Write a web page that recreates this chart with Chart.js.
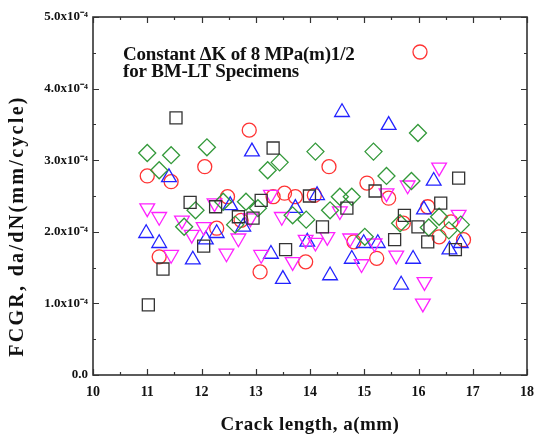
<!DOCTYPE html>
<html>
<head>
<meta charset="utf-8">
<script src="https://cdn.jsdelivr.net/npm/chart.js@4.4.1/dist/chart.umd.min.js"></script>
<style>
html,body{margin:0;padding:0;background:#fff;}
#wrap{width:543px;height:438px;position:relative;}
</style>
</head>
<body>
<div id="wrap"><canvas id="c" width="543" height="438"></canvas></div>
<script>
// ---- data (crack length a in mm, FCGR in units of 1e-4 mm/cycle) ----
const redX = [11.0,11.22,11.44,12.06,12.28,12.48,12.73,12.88,13.08,13.32,13.53,13.73,13.92,14.08,14.35,14.81,15.05,15.23,15.45,15.72,16.17,16.38,16.6,16.83];
const redY = [2.78,1.65,2.70,2.91,2.05,2.49,2.16,3.42,1.44,2.49,2.54,2.49,1.58,2.51,2.91,1.86,2.68,1.63,2.47,2.12,2.35,1.93,2.14,1.89];

const blackX = [11.02,11.29,11.53,11.79,12.04,12.26,12.68,12.95,13.1,13.32,13.55,13.99,14.23,14.68,15.2,15.56,15.74,15.99,16.17,16.41,16.68,16.74];
const blackY = [0.98,1.48,3.59,2.41,1.80,2.35,2.21,2.19,2.44,3.17,1.75,2.50,2.07,2.33,2.57,1.89,2.23,2.07,1.86,2.40,1.75,2.75];

const blueX = [10.98,11.22,11.4,11.84,12.08,12.28,12.53,12.77,12.93,13.28,13.5,13.73,13.95,14.13,14.37,14.59,14.77,14.99,15.25,15.45,15.68,15.9,16.1,16.28,16.57,16.78];
const blueY = [1.98,1.84,2.76,1.61,1.89,1.98,2.37,2.07,3.12,1.69,1.34,2.33,1.86,2.51,1.39,3.67,1.62,1.84,1.84,3.49,1.26,1.62,2.31,2.71,1.75,1.84];

const magentaX = [11.0,11.22,11.44,11.64,11.82,12.04,12.24,12.46,12.68,12.9,13.1,13.28,13.48,13.68,13.92,14.1,14.32,14.55,14.74,14.95,15.19,15.41,15.59,15.8,16.11,16.08,16.38,16.74];
const magentaY = [2.33,2.21,1.68,2.16,1.96,2.07,2.40,1.70,1.91,2.19,1.68,2.52,2.21,1.58,1.89,1.85,1.93,2.29,1.91,1.55,1.84,2.54,1.67,2.65,1.30,1.0,2.90,2.24];

const greenX = [11.0,11.22,11.44,11.68,11.89,12.1,12.4,12.62,12.82,13.04,13.22,13.44,13.68,13.93,14.1,14.37,14.55,14.77,15.01,15.17,15.41,15.66,15.87,15.99,16.19,16.38,16.56,16.78];
const greenY = [3.10,2.86,3.07,2.07,2.30,3.18,2.42,2.10,2.42,2.33,2.86,2.97,2.23,2.17,3.12,2.30,2.49,2.49,1.93,3.12,2.78,2.12,2.71,3.38,2.06,2.21,2.02,2.10];

const xTicks = [10,11,12,13,14,15,16,17,18];
const yTicks = [0,1,2,3,4,5];
const legendLines = ["Constant \u0394K of 8 MPa(m)1/2", "for BM-LT Specimens"];
const xTitle = "Crack length, a(mm)";
const yTitle = "FCGR, da/dN(mm/cycle)";

function pts(xs, ys){ return xs.map((x,i)=>({x:x, y:ys[i]})); }

const SERIF = "'Liberation Serif','Times New Roman',serif";

const framePlugin = {
  id:'frame',
  afterDraw(chart){
    const ctx = chart.ctx, a = chart.chartArea;
    const xs = chart.scales.x, ys = chart.scales.y;
    ctx.save();
    ctx.strokeStyle = '#333';
    ctx.lineWidth = 1.6;
    ctx.strokeRect(a.left, a.top, a.right-a.left, a.bottom-a.top);
    ctx.lineWidth = 1.2;
    ctx.beginPath();
    for (let v = 10; v <= 18.001; v += 0.5) {
      const px = Math.round(xs.getPixelForValue(v)) + 0.5;
      const L = (Math.abs(v - Math.round(v)) < 1e-6) ? 6 : 3;
      ctx.moveTo(px, a.bottom); ctx.lineTo(px, a.bottom - L);
      ctx.moveTo(px, a.top); ctx.lineTo(px, a.top + L);
    }
    for (let v = 0; v <= 5.001; v += 0.5) {
      const py = Math.round(ys.getPixelForValue(v)) + 0.5;
      const L = (Math.abs(v - Math.round(v)) < 1e-6) ? 6 : 3;
      ctx.moveTo(a.left, py); ctx.lineTo(a.left + L, py);
      ctx.moveTo(a.right, py); ctx.lineTo(a.right - L, py);
    }
    ctx.stroke();

    // axis titles
    ctx.fillStyle = '#111';
    ctx.font = "bold 19px " + SERIF;
    ctx.textBaseline = 'middle';
    ctx.textAlign = 'center';
    try { ctx.letterSpacing = '0.5px'; } catch(e) {}
    ctx.fillText(xTitle, (a.left + a.right)/2, 425);
    ctx.save();
    ctx.font = "bold 20px " + SERIF;
    try { ctx.letterSpacing = '2.3px'; } catch(e) {}
    ctx.translate(18, (a.top + a.bottom)/2 + 30);
    ctx.rotate(-Math.PI/2);
    ctx.fillText(yTitle, 0, 0);
    ctx.restore();

    // legend annotation
    ctx.font = "bold 19px " + SERIF;
    ctx.textAlign = 'left';
    try { ctx.letterSpacing = '-0.2px'; } catch(e) {}
    const lx = a.left + 30, ly = a.top + 38;
    ctx.fillText(legendLines[0], lx, ly);
    ctx.fillText(legendLines[1], lx, ly + 17);
    try { ctx.letterSpacing = '0px'; } catch(e) {}
    ctx.beginPath();
    ctx.strokeStyle = '#ff3333';
    ctx.lineWidth = 1.3;
    ctx.arc(a.left + 327, ly - 3, 7, 0, Math.PI*2);
    ctx.stroke();
    ctx.restore();
  }
};

const common = { showLine:false, backgroundColor:'rgba(0,0,0,0)', borderWidth:1.3, pointBorderWidth:1.3, pointHoverRadius:8 };

new Chart(document.getElementById('c'), {
  type:'scatter',
  data:{
    datasets:[
      Object.assign({label:'black', data:pts(blackX,blackY), pointStyle:'rect', pointRadius:8.5, borderColor:'#333333', pointBorderColor:'#333333'}, common),
      Object.assign({label:'green', data:pts(greenX,greenY), pointStyle:'rectRot', pointRadius:8.5, borderColor:'#33993a', pointBorderColor:'#33993a'}, common),
      Object.assign({label:'magenta', data:pts(magentaX,magentaY), pointStyle:'triangle', rotation:180, pointRotation:180, pointRadius:8.5, borderColor:'#ff22ff', pointBorderColor:'#ff22ff'}, common),
      Object.assign({label:'blue', data:pts(blueX,blueY), pointStyle:'triangle', pointRadius:8.5, borderColor:'#2222ff', pointBorderColor:'#2222ff'}, common),
      Object.assign({label:'red', data:pts(redX,redY), pointStyle:'circle', pointRadius:7, borderColor:'#ff3333', pointBorderColor:'#ff3333'}, common)
    ]
  },
  options:{
    responsive:false,
    animation:false,
    devicePixelRatio:1,
    layout:{padding:{left:5, right:11, top:17, bottom:0}},
    plugins:{legend:{display:false}, tooltip:{enabled:false}},
    scales:{
      x:{
        type:'linear', min:10, max:18,
        afterBuildTicks(s){ s.ticks = xTicks.map(v=>({value:v})); },
        afterFit(s){ s.height = 63; },
        grid:{display:false, drawTicks:false},
        border:{display:false},
        ticks:{padding:9, color:'#111', font:{family:SERIF, size:14, weight:'bold'}, maxRotation:0, autoSkip:false},
        title:{display:false}
      },
      y:{
        type:'linear', min:0, max:5,
        afterBuildTicks(s){ s.ticks = yTicks.map(v=>({value:v})); },
        afterFit(s){ s.width = 88; },
        grid:{display:false, drawTicks:false},
        border:{display:false},
        ticks:{padding:5, color:'#111', font:{family:SERIF, size:13, weight:'bold'},
          callback:(v)=> v===0 ? '0.0' : v.toFixed(1)+'x10\u207B\u2074'},
        title:{display:false}
      }
    }
  },
  plugins:[framePlugin]
});
</script>
</body>
</html>
